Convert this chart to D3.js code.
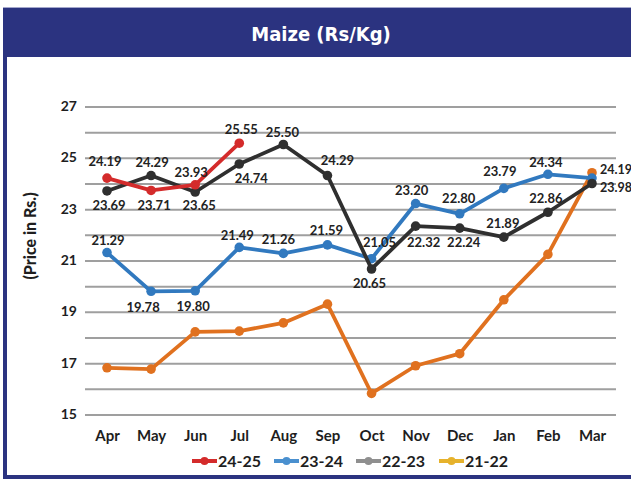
<!DOCTYPE html>
<html>
<head>
<meta charset="utf-8">
<script src="https://cdn.jsdelivr.net/npm/d3@7"></script>
<style>
  body { margin: 0; background: #fff; }
  svg { display: block; }
</style>
</head>
<body>
<div id="chart"></div>
<script>
// chart data
const months = ["Apr", "May", "Jun", "Jul", "Aug", "Sep", "Oct", "Nov", "Dec", "Jan", "Feb", "Mar"];
const seriesNames = ["24-25", "23-24", "22-23", "21-22"];
const v2425 = [24.19, 23.71, 23.93, 25.55];
const v2324 = [21.29, 19.78, 19.80, 21.49, 21.26, 21.59, 21.05, 23.20, 22.80, 23.79, 24.34, 24.19];
const v2223 = [23.69, 24.29, 23.65, 24.74, 25.50, 24.29, 20.65, 22.32, 22.24, 21.89, 22.86, 23.98];
const v2122 = [16.8, 16.75, 18.2, 18.23, 18.55, 19.28, 15.8, 16.88, 17.35, 19.45, 21.22, 24.4];
const yTicks = [15, 16, 17, 18, 19, 20, 21, 22, 23, 24, 25, 26, 27];

const width = 631, height = 479;

const svg = d3.select("#chart").append("svg")
  .attr("width", width)
  .attr("height", height);

// frame + header band
svg.append("rect").attr("x", 3).attr("y", 7).attr("width", 628).attr("height", 1.5).attr("fill", "#a4a7cc");
svg.append("rect").attr("x", 3).attr("y", 8).attr("width", 628).attr("height", 49).attr("fill", "#2b3380");
svg.append("rect").attr("x", 3).attr("y", 8).attr("width", 4).attr("height", 471).attr("fill", "#2b3380");
svg.append("rect").attr("x", 3).attr("y", 475).attr("width", 628).attr("height", 4).attr("fill", "#2b3380");

svg.append("text")
  .attr("x", 321).attr("y", 41)
  .attr("text-anchor", "middle")
  .attr("fill", "#fff")
  .style("font-family", "'DejaVu Sans Condensed', 'Liberation Sans Narrow', sans-serif")
  .style("font-weight", "bold")
  .style("font-size", "20px")
  .text("Maize (Rs/Kg)");

// scales
const x = d3.scalePoint().domain(months).range([107, 592]);
const y = d3.scaleLinear().domain([15, 27]).range([414, 106]);

// y axis with gridlines on every unit, labels on odd values
const yAxis = svg.append("g")
  .attr("transform", "translate(85,0)")
  .call(d3.axisLeft(y).tickValues(yTicks).tickSize(-(616 - 85)).tickPadding(8)
    .tickFormat(d => d % 2 === 1 ? d : ""));
yAxis.select(".domain").remove();
yAxis.selectAll(".tick line").attr("stroke", "#9f9f9f").attr("stroke-width", 2).attr("transform", "translate(0,0.5)");
yAxis.selectAll(".tick text")
  .attr("fill", "#1e1e1e")
  .style("font-family", "Lato, sans-serif")
  .style("font-weight", "bold")
  .style("font-size", "14px");

// x axis (month names)
const xAxis = svg.append("g")
  .attr("transform", "translate(0,414)")
  .call(d3.axisBottom(x).tickSize(0).tickPadding(16));
xAxis.select(".domain").remove();
xAxis.selectAll(".tick text")
  .attr("fill", "#1e1e1e")
  .style("font-family", "Lato, sans-serif")
  .style("font-weight", "bold")
  .style("font-size", "15px");

svg.append("text")
  .attr("transform", "translate(36,236) rotate(-90)")
  .attr("text-anchor", "middle")
  .attr("fill", "#1e1e1e")
  .style("font-family", "Lato, sans-serif")
  .style("font-weight", "900")
  .style("font-size", "16px")
  .text("(Price in Rs.)");

// series, drawn bottom to top
const series = [
  {name: "21-22", values: v2122, color: "#e0711f", legend: "#e6b22c", labels: false},
  {name: "23-24", values: v2324, color: "#3179bf", legend: "#4a90cf", labels: true},
  {name: "22-23", values: v2223, color: "#2f2f2f", legend: "#8f8f8f", labels: true},
  {name: "24-25", values: v2425, color: "#d42b2b", legend: "#d42b2b", labels: true}
];

// where each value label sits relative to its point: [dx, dy of text centre]
const labelPlace = {
  "24-25": [[-2, -17], [3, 15], [-4, -12], [2, -14]],
  "23-24": [[1, -12], [-8, 16], [-2, 16], [-2, -12], [-5, -14], [-1, -14], [8, -16], [-4, -13], [-1, -15], [-4, -17], [-2, -12], [8, -8]],
  "22-23": [[2, 14], [1, -13], [4, 13], [12, 14], [-1, -12], [10, -15], [-2, 14], [8, 16], [4, 14], [-1, -14], [-2, -14], [8, 4]]
};

const line = d3.line()
  .x((d, i) => x(months[i]))
  .y(d => y(d));

series.forEach(s => {
  const g = svg.append("g");
  g.append("path")
    .datum(s.values)
    .attr("d", line)
    .attr("fill", "none")
    .attr("stroke", s.color)
    .attr("stroke-width", 3.8)
    .attr("stroke-linejoin", "round");
  g.selectAll("circle")
    .data(s.values)
    .enter().append("circle")
    .attr("cx", (d, i) => x(months[i]))
    .attr("cy", d => y(d))
    .attr("r", 4.8)
    .attr("fill", s.color);
});

// value labels on top of everything
series.filter(s => s.labels).forEach(s => {
  const place = labelPlace[s.name];
  svg.append("g").selectAll("text")
    .data(s.values)
    .enter().append("text")
    .attr("x", (d, i) => x(months[i]) + place[i][0])
    .attr("y", (d, i) => y(d) + place[i][1])
    .attr("dy", "0.35em")
    .attr("text-anchor", (d, i) => i === 11 ? "start" : "middle")
    .attr("fill", "#222")
    .style("font-family", "Lato, sans-serif")
    .style("font-weight", "bold")
    .style("font-size", (d, i) => i === 11 ? "12.5px" : "13px")
    .text(d => d.toFixed(2));
});

// legend
const legendX = [192, 274, 356, 439];
const legendOrder = ["24-25", "23-24", "22-23", "21-22"];
legendOrder.forEach((name, i) => {
  const s = series.find(d => d.name === name);
  const g = svg.append("g").attr("transform", `translate(${legendX[i]},461)`);
  g.append("line").attr("x1", 0).attr("x2", 25).attr("y1", 0).attr("y2", 0)
    .attr("stroke", s.legend).attr("stroke-width", 4);
  g.append("circle").attr("cx", 12.5).attr("cy", 0).attr("r", 4).attr("fill", s.legend);
  g.append("text")
    .attr("x", 26).attr("y", 0).attr("dy", "0.36em")
    .attr("fill", "#1e1e1e")
    .style("font-family", "Lato, sans-serif")
    .style("font-weight", "bold")
    .style("font-size", "16px")
    .text(name);
});
</script>
</body>
</html>
